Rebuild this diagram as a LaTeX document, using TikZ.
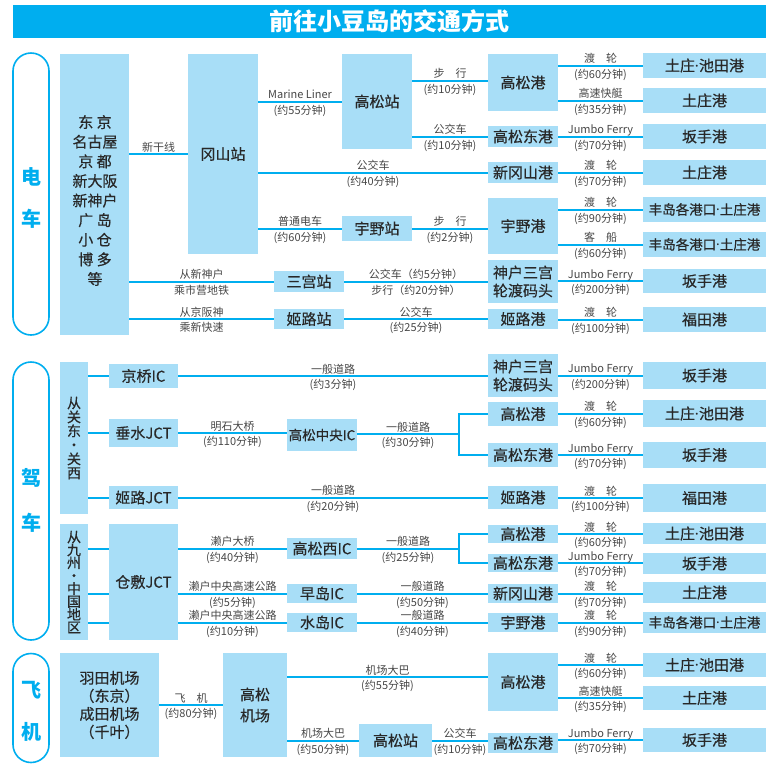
\documentclass[tikz,border=0pt]{standalone}
\usepackage{fontspec}
\setmainfont{Noto Sans CJK SC}
\newfontfamily\latf{Noto Sans}
\newcommand\dt{{\latf\bfseries ·}}
\definecolor{lineblue}{RGB}{0,174,239}
\definecolor{boxblue}{RGB}{168,222,247}
\definecolor{txtdark}{RGB}{40,40,40}
\definecolor{labgray}{RGB}{70,70,70}
\newcommand\bx[7][]{\node[boxst,minimum width={(#5-#3)*1pt},minimum height={(#6-#4)*1pt},#1] (#2) at ({(#3+#5)/2},{(#4+#6)/2}) {#7};}
\begin{document}
\begin{tikzpicture}[x=1pt,y=-1pt,
 boxst/.style={fill=boxblue,inner sep=0pt,outer sep=0pt,align=center,text=txtdark,font=\fontsize{15}{18}\selectfont\addfontfeature{FakeBold=0.4}},
 ln/.style={draw=lineblue,line width=2pt},
 labup/.style={font=\fontsize{11}{13}\selectfont,text=labgray,anchor=base,yshift=3pt,inner sep=0pt},
 labdn/.style={font=\fontsize{11}{13}\selectfont,text=labgray,anchor=base,yshift=-12.5pt,inner sep=0pt},
 tabst/.style={draw=lineblue,line width=1.6pt,fill=white,rounded corners=18pt,inner sep=0pt,minimum width=36pt},
 tabtxt/.style={text=lineblue,font=\fontsize{20}{24}\selectfont\bfseries,inner sep=0pt},
 small/.style={font=\fontsize{13.5}{16}\selectfont\addfontfeature{FakeBold=0.4}}
]
\useasboundingbox (0,0) rectangle (779,764);
% title
\node[fill=lineblue,minimum width=753pt,minimum height=33pt,inner sep=0pt,text=white,font=\fontsize{24}{28}\selectfont\bfseries] (title) at (389.5,21.5) {前往小豆岛的交通方式};
% tabs
\node[tabst,minimum height=282pt] (tabA) at (31,194) {};
\node[tabtxt] (tabA1) at (31,177) {电};
\node[tabtxt] (tabA2) at (31,219) {车};
\node[tabst,minimum height=278pt] (tabB) at (31,501) {};
\node[tabtxt] (tabB1) at (31,478) {驾};
\node[tabtxt] (tabB2) at (31,523) {车};
\node[tabst,minimum height=109pt] (tabC) at (31,708) {};
\node[tabtxt] (tabC1) at (31,690) {飞};
\node[tabtxt] (tabC2) at (31,732) {机};

% ===== rail =====
\bx{cities}{60}{54}{129}{335}{}
\node[boxst,fill=none,font=\fontsize{15}{19.6}\selectfont\addfontfeature{FakeBold=0.4}] (citiesT) at (95,200.5) {东 京\\名古屋\\京 都\\新大阪\\新神户\\广 岛\\小 仓\\博 多\\等};
\bx{okayama}{188}{54}{258}{254}{冈山站}
\bx{tkst}{342}{54}{412}{149}{高松站}
\bx{tkport1}{488}{54}{558}{111}{高松港}
\bx{tkeast1}{488}{126}{558}{147}{高松东港}
\bx{shinoka1}{488}{162}{558}{183}{新冈山港}
\bx{uno1}{488}{198}{558}{254}{宇野港}
\bx{unost}{342}{216}{412}{241}{宇野站}
\bx{sannomiya}{274}{271}{344}{292}{三宫站}
\bx{kobe1}{488}{260}{558}{303}{神户三宫\\轮渡码头}
\bx{himejist}{274}{309}{344}{329}{姬路站}
\bx{himejiport1}{488}{309}{558}{329}{姬路港}
\bx{r1}{643}{53}{766}{78}{土庄\dt 池田港}
\bx{r2}{643}{88}{766}{113}{土庄港}
\bx{r3}{643}{124}{766}{149}{坂手港}
\bx{r4}{643}{160}{766}{185}{土庄港}
\bx[small]{r5}{643}{197}{766}{222}{丰岛各港口\dt 土庄港}
\bx[small]{r6}{643}{232}{766}{257}{丰岛各港口\dt 土庄港}
\bx{r7}{643}{269}{766}{293}{坂手港}
\bx{r8}{643}{307}{766}{332}{福田港}

\draw[ln] (cities.east |- okayama.west) -- node[labup]{新干线} (okayama.west);
\draw[ln] (okayama.east |- tkst.west) -- node[labup]{Marine Liner} node[labdn]{(约55分钟)} (tkst.west);
\draw[ln] (okayama.east |- shinoka1.west) -- node[labup]{公交车} node[labdn]{(约40分钟)} (shinoka1.west);
\draw[ln] (okayama.east |- unost.west) -- node[labup]{普通电车} node[labdn]{(约60分钟)} (unost.west);
\coordinate (c0) at ([yshift=2pt]tkport1.west);
\draw[ln] (tkst.east |- c0) -- node[labup]{步\quad 行} node[labdn]{(约10分钟)} (c0);
\draw[ln] (tkst.east |- tkeast1.west) -- node[labup]{公交车} node[labdn]{(约10分钟)} (tkeast1.west);
\draw[ln] (unost.east) -- node[labup]{步\quad 行} node[labdn]{(约2分钟)} (unost.east -| uno1.west);
\draw[ln] (tkport1.east |- r1.west) -- node[labup]{渡\quad 轮} node[labdn]{(约60分钟)} (r1.west);
\draw[ln] (tkport1.east |- r2.west) -- node[labup]{高速快艇} node[labdn]{(约35分钟)} (r2.west);
\draw[ln] (tkeast1.east |- r3.west) -- node[labup]{Jumbo Ferry} node[labdn]{(约70分钟)} (r3.west);
\draw[ln] (shinoka1.east |- r4.west) -- node[labup]{渡\quad 轮} node[labdn]{(约70分钟)} (r4.west);
\draw[ln] (uno1.east |- r5.west) -- node[labup]{渡\quad 轮} node[labdn]{(约90分钟)} (r5.west);
\draw[ln] (uno1.east |- r6.west) -- node[labup]{客\quad 船} node[labdn]{(约60分钟)} (r6.west);
\draw[ln] (cities.east |- sannomiya.west) -- node[labup]{从新神户} node[labdn]{乘市营地铁} (sannomiya.west);
\draw[ln] (sannomiya.east) -- node[labup]{公交车（约5分钟）} node[labdn]{步行（约20分钟）} (sannomiya.east -| kobe1.west);
\draw[ln] (kobe1.east |- r7.west) -- node[labup]{Jumbo Ferry} node[labdn]{(约200分钟)} (r7.west);
\draw[ln] (cities.east |- himejist.west) -- node[labup]{从京阪神} node[labdn]{乘新快速} (himejist.west);
\draw[ln] (himejist.east) -- node[labup]{公交车} node[labdn]{(约25分钟)} (himejiport1.west);
\draw[ln] (himejiport1.east |- r8.west) -- node[labup]{渡\quad 轮} node[labdn]{(约100分钟)} (r8.west);

% ===== drive =====
\bx[font=\fontsize{14}{14}\selectfont\addfontfeature{FakeBold=0.4}]{kanto}{60}{362}{88}{514}{从\\关\\东\\·\\关\\西}
\bx{kyobashi}{109}{364}{178}{388}{京桥IC}
\bx{tarumi}{109}{419}{178}{447}{垂水JCT}
\bx{himejijct}{109}{486}{178}{509}{姬路JCT}
\bx{kobe2}{488}{354}{558}{397}{神户三宫\\轮渡码头}
\bx[font=\fontsize{13.5}{16}\selectfont\addfontfeature{FakeBold=0.4}]{tkcentral}{287}{419}{357}{451}{高松中央IC}
\bx{tkport2}{488}{402}{558}{426}{高松港}
\bx{tkeast2}{488}{443}{558}{467}{高松东港}
\bx{himejiport2}{488}{486}{558}{509}{姬路港}
\bx{r9}{643}{362}{766}{389}{坂手港}
\bx{r10}{643}{400}{766}{427}{土庄\dt 池田港}
\bx{r11}{643}{442}{766}{468}{坂手港}
\bx{r12}{643}{484}{766}{512}{福田港}

\bx[font=\fontsize{14}{12.9}\selectfont\addfontfeature{FakeBold=0.4}]{kyushu}{60}{524}{88}{640}{从\\九\\州\\·\\中\\国\\地\\区}
\bx{kurashiki}{109}{524}{178}{640}{仓敷JCT}
\bx{tkwest}{287}{538}{357}{559}{高松西IC}
\bx{hayashima}{287}{584}{357}{603}{早岛IC}
\bx{mizushima}{287}{613}{357}{632}{水岛IC}
\bx{tkport3}{488}{525}{558}{543}{高松港}
\bx{tkeast3}{488}{554}{558}{572}{高松东港}
\bx{shinoka2}{488}{584}{558}{603}{新冈山港}
\bx{uno2}{488}{613}{558}{632}{宇野港}
\bx{r13}{643}{523}{766}{544}{土庄\dt 池田港}
\bx{r14}{643}{553}{766}{574}{坂手港}
\bx{r15}{643}{582}{766}{603}{土庄港}
\bx[small]{r16}{643}{612}{766}{633}{丰岛各港口\dt 土庄港}

\draw[ln] (kanto.east |- kyobashi.west) -- (kyobashi.west);
\draw[ln] (kyobashi.east) -- node[labup]{一般道路} node[labdn]{(约3分钟)} (kyobashi.east -| kobe2.west);
\draw[ln] (kobe2.east |- r9.west) -- node[labup]{Jumbo Ferry} node[labdn]{(约200分钟)} (r9.west);
\draw[ln] (kanto.east |- tarumi.west) -- (tarumi.west);
\draw[ln] (tarumi.east) -- node[labup]{明石大桥} node[labdn]{(约110分钟)} (tarumi.east -| tkcentral.west);
\coordinate (br1) at (459,434);
\draw[ln] (tkcentral.east |- br1) -- node[labup]{一般道路} node[labdn]{(约30分钟)} (br1);
\draw[ln] (tkport2.west) -| (br1) |- (tkeast2.west);
\draw[ln] (tkport2.east |- r10.west) -- node[labup]{渡\quad 轮} node[labdn]{(约60分钟)} (r10.west);
\draw[ln] (tkeast2.east |- r11.west) -- node[labup]{Jumbo Ferry} node[labdn]{(约70分钟)} (r11.west);
\draw[ln] (kanto.east |- himejijct.west) -- (himejijct.west);
\draw[ln] (himejijct.east) -- node[labup]{一般道路} node[labdn]{(约20分钟)} (himejiport2.west);
\draw[ln] (himejiport2.east |- r12.west) -- node[labup]{渡\quad 轮} node[labdn]{(约100分钟)} (r12.west);

\draw[ln] (kyushu.east |- tkwest.west) -- (kurashiki.west |- tkwest.west);
\draw[ln] (kyushu.east |- hayashima.west) -- (kurashiki.west |- hayashima.west);
\draw[ln] (kyushu.east |- mizushima.west) -- (kurashiki.west |- mizushima.west);
\draw[ln] (kurashiki.east |- tkwest.west) -- node[labup]{濑户大桥} node[labdn]{(约40分钟)} (tkwest.west);
\draw[ln] (kurashiki.east |- hayashima.west) -- node[labup]{濑户中央高速公路} node[labdn]{(约5分钟)} (hayashima.west);
\draw[ln] (kurashiki.east |- mizushima.west) -- node[labup]{濑户中央高速公路} node[labdn]{(约10分钟)} (mizushima.west);
\coordinate (br2) at (459,548.5);
\draw[ln] (tkwest.east) -- node[labup]{一般道路} node[labdn]{(约25分钟)} (br2);
\draw[ln] (tkport3.west) -| (br2) |- (tkeast3.west);
\draw[ln] (hayashima.east) -- node[labup]{一般道路} node[labdn]{(约50分钟)} (hayashima.east -| shinoka2.west);
\draw[ln] (mizushima.east) -- node[labup]{一般道路} node[labdn]{(约40分钟)} (mizushima.east -| uno2.west);
\draw[ln] (tkport3.east) -- node[labup]{渡\quad 轮} node[labdn]{(约60分钟)} (tkport3.east -| r13.west);
\draw[ln] (tkeast3.east) -- node[labup]{Jumbo Ferry} node[labdn]{(约70分钟)} (tkeast3.east -| r14.west);
\draw[ln] (shinoka2.east) -- node[labup]{渡\quad 轮} node[labdn]{(约70分钟)} (shinoka2.east -| r15.west);
\draw[ln] (uno2.east) -- node[labup]{渡\quad 轮} node[labdn]{(约90分钟)} (uno2.east -| r16.west);

% ===== flight =====
\bx{haneda}{60}{653}{159}{757}{羽田机场\\（东京）\\成田机场\\（千叶）}
\bx[font=\fontsize{15}{21}\selectfont\addfontfeature{FakeBold=0.4}]{airport}{223}{653}{287}{757}{高松\\机场}
\bx{tkport4}{488}{653}{558}{711}{高松港}
\bx{tkst2}{359}{724}{432}{757}{高松站}
\bx{tkeast4}{488}{733}{558}{753}{高松东港}
\bx{r17}{643}{653}{766}{677}{土庄\dt 池田港}
\bx{r18}{643}{686}{766}{710}{土庄港}
\bx{r19}{643}{728}{766}{752}{坂手港}

\draw[ln] (haneda.east) -- node[labup]{飞\quad 机} node[labdn]{(约80分钟)} (haneda.east -| airport.west);
\coordinate (c1) at ([yshift=5pt]tkport4.west);
\draw[ln] (airport.east |- c1) -- node[labup]{机场大巴} node[labdn]{(约55分钟)} (c1);
\draw[ln] (airport.east |- tkst2.west) -- node[labup]{机场大巴} node[labdn]{(约50分钟)} (tkst2.west);
\draw[ln] (tkst2.east) -- node[labup]{公交车} node[labdn]{(约10分钟)} (tkst2.east -| tkeast4.west);
\draw[ln] (tkport4.east |- r17.west) -- node[labup]{渡\quad 轮} node[labdn]{(约60分钟)} (r17.west);
\draw[ln] (tkport4.east |- r18.west) -- node[labup]{高速快艇} node[labdn]{(约35分钟)} (r18.west);
\draw[ln] (tkeast4.east |- r19.west) -- node[labup]{Jumbo Ferry} node[labdn]{(约70分钟)} (r19.west);
\end{tikzpicture}
\end{document}
